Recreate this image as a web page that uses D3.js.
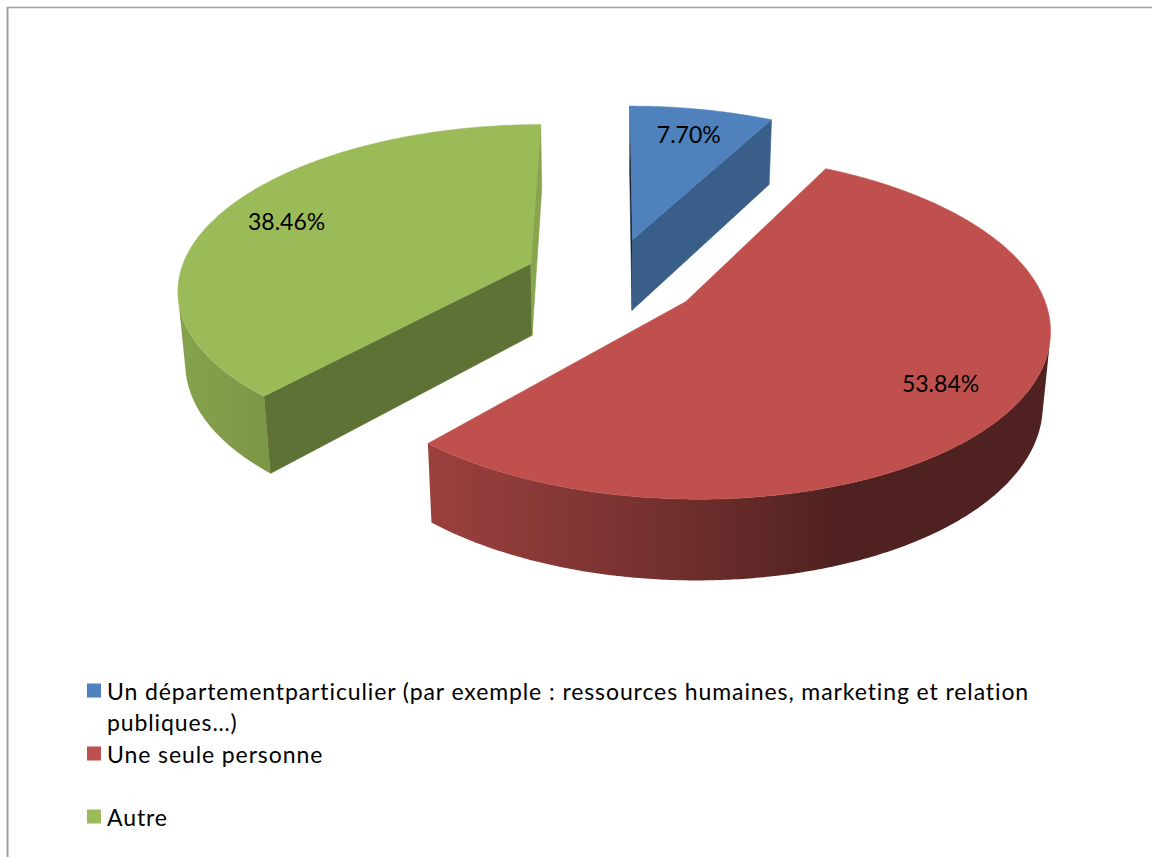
<!DOCTYPE html>
<html>
<head>
<meta charset="utf-8">
<script src="https://cdn.jsdelivr.net/npm/d3@7"></script>
<style>
  html, body { margin: 0; padding: 0; background: #fff; }
  svg { display: block; }
</style>
</head>
<body>
<svg id="chart" width="1152" height="857"></svg>
<script>
// ---- data ----
const categories = [
  "Un départementparticulier (par exemple : ressources humaines, marketing et relation publiques…)",
  "Une seule personne",
  "Autre"
];
const shares = [7.70, 53.84, 38.46];
const valueLabels = ["7.70%", "53.84%", "38.46%"];
const sliceColors = ["#4f81bd", "#c0504d", "#9bbb59"];

// ---- setup ----
const W = 1152, H = 857;
const svg = d3.select("#chart");
const FONT = "Lato, 'Open Sans', 'Noto Sans', sans-serif";
const defs = svg.append("defs");

// frame lines of the surrounding box
svg.append("line").attr("x1", 7).attr("x2", W).attr("y1", 7.5).attr("y2", 7.5)
  .attr("stroke", "#a0a0a0").attr("stroke-width", 1.5);
svg.append("line").attr("x1", 7.5).attr("x2", 7.5).attr("y1", 7).attr("y2", H)
  .attr("stroke", "#a0a0a0").attr("stroke-width", 2);

// ---- perspective projection of a pie lying on the ground plane ----
// world: X to the right, Y up, Z away from the viewer; pie radius = 1
const view = { cx: 612, cy: 278, scale: 352, tilt: 27.5 * Math.PI / 180, dist: 6.3 };
const explode = 0.25, thick = 0.235;
const sinT = Math.sin(view.tilt), cosT = Math.cos(view.tilt);
const cam = [0, view.dist * sinT, -view.dist * cosT];

function project(X, Y, Z) {
  const w = view.dist + Z * cosT - Y * sinT;
  const u = Y * cosT + Z * sinT;
  const f = view.scale * view.dist;
  return [view.cx + f * X / w, view.cy - f * u / w];
}

const pie = d3.pie().sort(null).value(d => d);
const arcs = pie(shares).map((a, i) => {
  const mid = (a.startAngle + a.endAngle) / 2;
  return {
    i, a0: a.startAngle, a1: a.endAngle, mid,
    cx: explode * Math.sin(mid), cz: explode * Math.cos(mid)
  };
});

const deg = r => r * 180 / Math.PI;
const shadeColor = (c, f) => {
  const k = d3.rgb(c);
  return d3.rgb(k.r * f, k.g * f, k.b * f).formatHex();
};
const wallShade = th => 0.41 + 0.45 * Math.max(0, Math.cos(th - 250 * Math.PI / 180));
const radialShade = n => Math.max(0.25, 0.25 + 0.65 * Math.cos(n - 75 * Math.PI / 180));

const line = d3.line();
const gPie = svg.append("g");

// draw back slices first
const order = arcs.slice().sort((p, q) => q.cz - p.cz);

order.forEach(s => {
  const g = gPie.append("g");
  const col = sliceColors[s.i];
  const rim = (a, Y) => project(s.cx + Math.sin(a), Y, s.cz + Math.cos(a));
  const ctr = Y => project(s.cx, Y, s.cz);

  // radial cut faces
  const faces = [
    { a: s.a0, n: [-Math.cos(s.a0), Math.sin(s.a0)] },
    { a: s.a1, n: [Math.cos(s.a1), -Math.sin(s.a1)] }
  ];
  faces.forEach(fc => {
    const vis = fc.n[0] * (cam[0] - s.cx) + fc.n[1] * (cam[2] - s.cz) > 0;
    if (!vis) return;
    const nAng = Math.atan2(fc.n[0], fc.n[1]);
    const fill = shadeColor(col, radialShade(nAng));
    const pts = [ctr(0), rim(fc.a, 0), rim(fc.a, -thick), ctr(-thick)];
    g.append("path").attr("d", line(pts) + "Z")
      .attr("fill", fill).attr("stroke", fill).attr("stroke-width", 0.6);
  });

  // outer curved wall: the run of angles whose surface faces the camera
  const n = Math.max(16, Math.ceil(deg(s.a1 - s.a0) / 0.5));
  const visAngles = [];
  for (let k = 0; k <= n; k++) {
    const a = s.a0 + (s.a1 - s.a0) * k / n;
    const px = s.cx + Math.sin(a), pz = s.cz + Math.cos(a);
    if (Math.sin(a) * (cam[0] - px) + Math.cos(a) * (cam[2] - pz) > 0) visAngles.push(a);
  }
  if (visAngles.length > 1) {
    const topRun = visAngles.map(a => rim(a, 0));
    const botRun = visAngles.map(a => rim(a, -thick)).reverse();
    const xs = topRun.map(p => p[0]);
    const x0 = d3.min(xs), x1 = d3.max(xs);
    const gid = "wall" + s.i;
    const grad = defs.append("linearGradient").attr("id", gid)
      .attr("gradientUnits", "userSpaceOnUse")
      .attr("x1", x0).attr("x2", x1).attr("y1", 0).attr("y2", 0);
    const stops = visAngles.map((a, j) => ({ off: (topRun[j][0] - x0) / (x1 - x0), c: shadeColor(col, wallShade(a)) }))
      .sort((p, q) => p.off - q.off);
    stops.forEach(st => grad.append("stop").attr("offset", st.off).attr("stop-color", st.c));
    g.append("path").attr("d", line(topRun.concat(botRun)) + "Z")
      .attr("fill", `url(#${gid})`);
  }

  // top face
  const topPts = [ctr(0)];
  for (let k = 0; k <= n; k++) topPts.push(rim(s.a0 + (s.a1 - s.a0) * k / n, 0));
  g.append("path").attr("d", line(topPts) + "Z").attr("fill", col)
    .attr("stroke", col).attr("stroke-width", 0.5);
});

// value labels on the top faces
const labelR = 0.79;
arcs.forEach(s => {
  const p = project(s.cx + labelR * Math.sin(s.mid), 0, s.cz + labelR * Math.cos(s.mid));
  svg.append("text").attr("x", p[0]).attr("y", p[1])
    .attr("text-anchor", "middle").attr("dominant-baseline", "central")
    .attr("font-family", FONT).attr("font-size", 23).attr("fill", "#000")
    .text(valueLabels[s.i]);
});

// ---- legend ----
const legend = { x: 87, y: 675, pitch: 63, lineH: 31, sw: 14, gap: 6, maxW: 960, fs: 23, ls: 0.9 };
const gLeg = svg.append("g").attr("font-family", FONT).attr("font-size", legend.fs)
  .attr("letter-spacing", legend.ls);

function wrapWords(text, maxW) {
  const probe = gLeg.append("text").attr("visibility", "hidden");
  const words = text.split(" ");
  const lines = [];
  let cur = "";
  words.forEach(w => {
    const t = cur ? cur + " " + w : w;
    probe.text(t);
    if (probe.node().getComputedTextLength() > maxW && cur) { lines.push(cur); cur = w; }
    else cur = t;
  });
  if (cur) lines.push(cur);
  probe.remove();
  return lines;
}

categories.forEach((c, i) => {
  const y0 = legend.y + i * legend.pitch;
  gLeg.append("rect").attr("x", legend.x).attr("y", y0 + legend.lineH / 2 - legend.sw / 2)
    .attr("width", legend.sw).attr("height", legend.sw).attr("fill", sliceColors[i]);
  const lines = wrapWords(c, legend.maxW);
  const t = gLeg.append("text").attr("fill", "#000");
  lines.forEach((ln, j) => {
    t.append("tspan").attr("x", legend.x + legend.sw + legend.gap)
      .attr("y", y0 + legend.lineH / 2 + j * legend.lineH)
      .attr("dominant-baseline", "central").text(ln);
  });
});
</script>
</body>
</html>
